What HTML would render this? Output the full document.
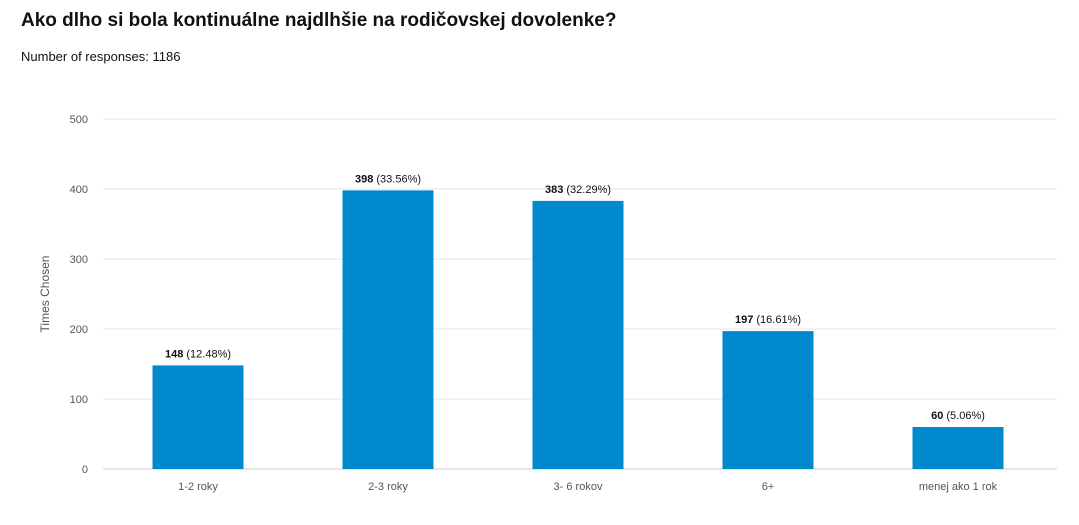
<!DOCTYPE html>
<html><head><meta charset="utf-8">
<style>
body{margin:0;background:#fff;width:1079px;height:525px;overflow:hidden;font-family:"Liberation Sans",sans-serif;}
#title{position:absolute;left:21px;top:10px;font-size:19px;font-weight:bold;color:#111;}
#sub{position:absolute;left:21px;top:49px;font-size:13px;color:#111;}
svg{position:absolute;left:0;top:0;}
</style></head><body>
<div id="title">Ako dlho si bola kontinuálne najdlhšie na rodičovskej dovolenke?</div>
<div id="sub">Number of responses: 1186</div>
<svg id="chart" width="1079" height="525"></svg>
<script>
const categories=["1-2 roky","2-3 roky","3- 6 rokov","6+","menej ako 1 rok"];
const values=[148,398,383,197,60];
const percents=["12.48%","33.56%","32.29%","16.61%","5.06%"];
const yTicks=[0,100,200,300,400,500];
const NS="http://www.w3.org/2000/svg";
const svg=document.getElementById('chart');
const x0=103,bandW=190,barW=91,yBase=469,yTop=119,yMax=500;
const y=v=>yBase-(v/yMax)*(yBase-yTop);
const xc=i=>x0+bandW*i+bandW/2;
function mk(t,a){const e=document.createElementNS(NS,t);for(const k in a)e.setAttribute(k,a[k]);svg.appendChild(e);return e;}
yTicks.forEach(t=>{
  const l=mk('line',{x1:103,x2:1057,y1:y(t),y2:y(t),stroke:t===0?'#ccc':'#e6e6e6','stroke-width':1});
  
  
  const tx=mk('text',{x:88,y:y(t)+4,'text-anchor':'end','font-size':11,fill:'#555'});
  tx.textContent=t;
  
  
});
const yt=mk('text',{x:0,y:0,transform:'translate(49,294) rotate(-90)','text-anchor':'middle','font-size':12,fill:'#555'});
yt.textContent='Times Chosen';


categories.forEach((c,i)=>{
  const b=mk('rect',{x:xc(i)-barW/2,y:y(values[i]),width:barW,height:yBase-y(values[i]),fill:'#008acd'});
  
  
  const lb=mk('text',{x:xc(i),y:y(values[i])-8,'text-anchor':'middle','font-size':11,fill:'#111'});
  lb.innerHTML='<tspan font-weight="bold">'+values[i]+'</tspan> ('+percents[i]+')';
  
  
  const xl=mk('text',{x:xc(i),y:490,'text-anchor':'middle','font-size':11,fill:'#555'});
  xl.textContent=c;
  
  
});
</script>
</body></html>
